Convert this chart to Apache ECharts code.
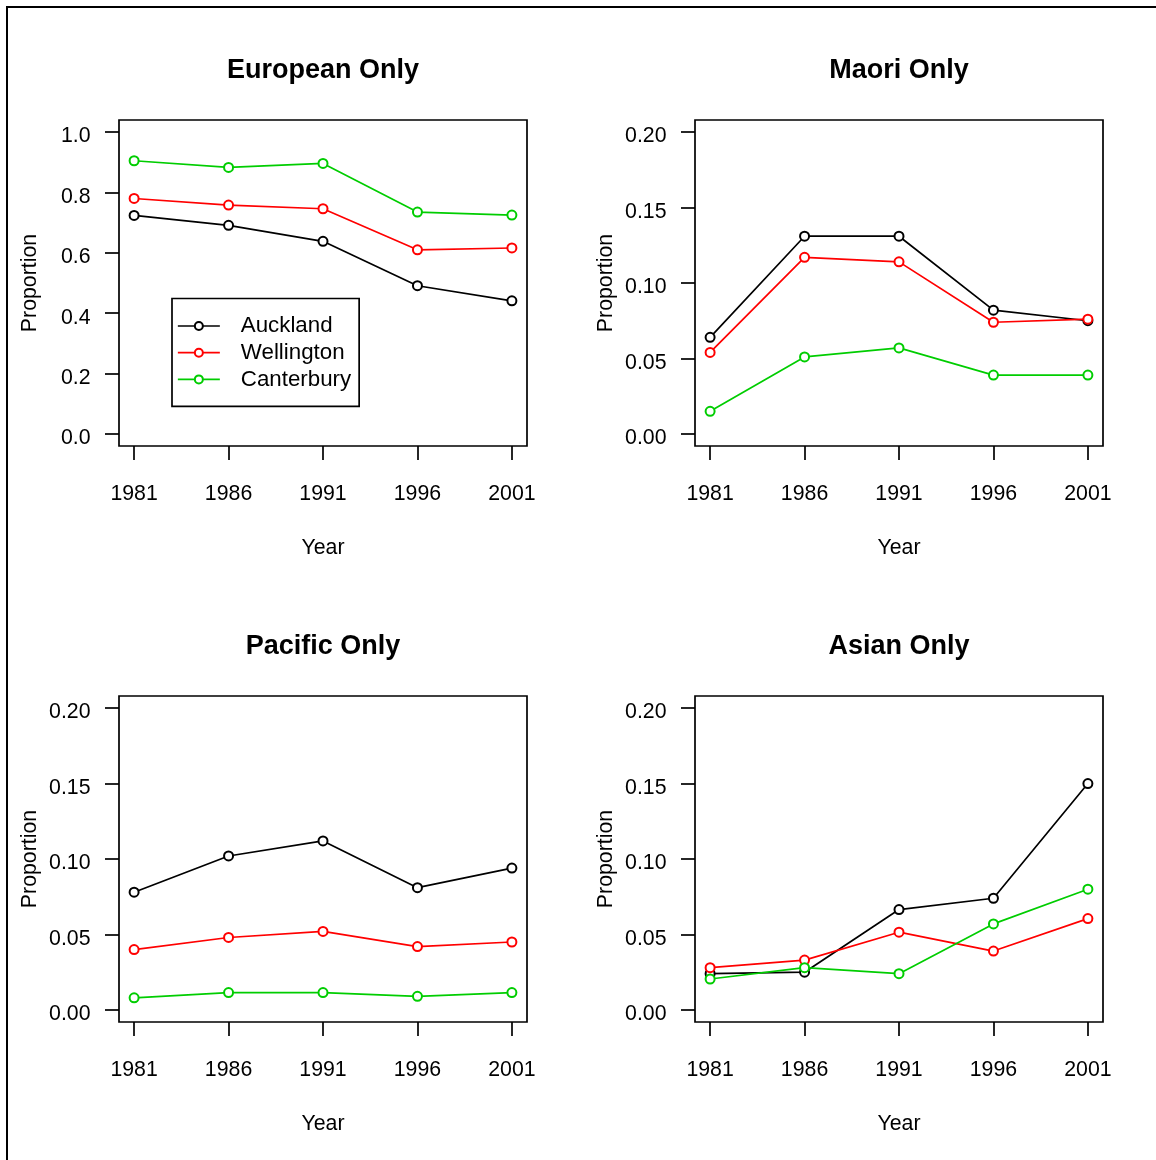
<!DOCTYPE html>
<html>
<head>
<meta charset="utf-8">
<script src="https://cdn.jsdelivr.net/npm/echarts@6/dist/echarts.min.js"></script>
<style>
  html, body { margin: 0; padding: 0; background: #ffffff; }
  #chart { width: 1156px; height: 1160px; }
</style>
</head>
<body>
<div id="chart"></div>
<script>
// Census proportions by region, 1981-2001
const years = [1981, 1986, 1991, 1996, 2001];
const regions = ['Auckland', 'Wellington', 'Canterbury'];
const regionColors = ['#000000', '#FF0000', '#00CD00'];

const panelTitles = ['European Only', 'Maori Only', 'Pacific Only', 'Asian Only'];

const europeanAuckland   = [0.724, 0.691, 0.638, 0.491, 0.441];
const europeanWellington = [0.780, 0.758, 0.746, 0.610, 0.616];
const europeanCanterbury = [0.905, 0.883, 0.896, 0.735, 0.725];

const maoriAuckland   = [0.064, 0.131, 0.131, 0.082, 0.075];
const maoriWellington = [0.054, 0.117, 0.114, 0.074, 0.076];
const maoriCanterbury = [0.015, 0.051, 0.057, 0.039, 0.039];

const pacificAuckland   = [0.078, 0.102, 0.112, 0.081, 0.094];
const pacificWellington = [0.040, 0.048, 0.052, 0.042, 0.045];
const pacificCanterbury = [0.008, 0.0115, 0.0115, 0.009, 0.0115];

const asianAuckland   = [0.024, 0.025, 0.0665, 0.074, 0.150];
const asianWellington = [0.028, 0.033, 0.0515, 0.039, 0.0605];
const asianCanterbury = [0.0205, 0.028, 0.024, 0.057, 0.080];

const yTicksEuropean = [0, 0.2, 0.4, 0.6, 0.8, 1.0];
const yTicksOther = [0, 0.05, 0.10, 0.15, 0.20];

const panelValues = [
  [europeanAuckland, europeanWellington, europeanCanterbury],
  [maoriAuckland, maoriWellington, maoriCanterbury],
  [pacificAuckland, pacificWellington, pacificCanterbury],
  [asianAuckland, asianWellington, asianCanterbury]
];
const panelTicks = [yTicksEuropean, yTicksOther, yTicksOther, yTicksOther];
const panelDecimals = [1, 2, 2, 2];

// plot-box geometry for the 2x2 layout
const FONT = '"Liberation Sans", Arial, Helvetica, sans-serif';
const TEXT = 21.3;
const LINE_W = 1.7;
const boxW = 408, boxH = 326;
const boxLeft = [119, 695, 119, 695];
const boxTop = [120, 120, 696, 696];
const titleY = [71, 71, 646.5, 646.5];

// R-style 4% padding beyond the data range
function padded(lo, hi) {
  const d = (hi - lo) * 0.04;
  return [lo - d, hi + d];
}

const grids = [], xAxes = [], yAxes = [], series = [], graphics = [];

panelTitles.forEach((title, p) => {
  grids.push({
    left: boxLeft[p], top: boxTop[p], width: boxW, height: boxH,
    show: true, borderColor: '#000', borderWidth: LINE_W, backgroundColor: 'transparent',
    containLabel: false, outerBoundsMode: 'none'
  });

  const xr = padded(years[0], years[years.length - 1]);
  xAxes.push({
    type: 'value', gridIndex: p, min: xr[0], max: xr[1],
    axisLine: { show: false, onZero: false },
    splitLine: { show: false },
    axisTick: { show: true, inside: false, length: 14, customValues: years,
                lineStyle: { color: '#000', width: LINE_W } },
    axisLabel: { customValues: years, margin: 38, color: '#000',
                 fontFamily: FONT, fontSize: TEXT, formatter: v => String(v) },
    name: 'Year', nameLocation: 'middle', nameGap: 92,
    nameTextStyle: { color: '#000', fontFamily: FONT, fontSize: TEXT }
  });

  const ticks = panelTicks[p];
  const yr = padded(ticks[0], ticks[ticks.length - 1]);
  const dec = panelDecimals[p];
  yAxes.push({
    type: 'value', gridIndex: p, min: yr[0], max: yr[1],
    axisLine: { show: false, onZero: false },
    splitLine: { show: false },
    axisTick: { show: true, inside: false, length: 14, customValues: ticks,
                lineStyle: { color: '#000', width: LINE_W } },
    axisLabel: { customValues: ticks, margin: 28.5, color: '#000',
                 fontFamily: FONT, fontSize: TEXT,
                 verticalAlign: 'top', lineHeight: 9,
                 formatter: v => Number(v).toFixed(dec) },
    name: 'Proportion', nameLocation: 'middle', nameGap: 78, nameMoveOverlap: false,
    nameTextStyle: { color: '#000', fontFamily: FONT, fontSize: TEXT }
  });

  regions.forEach((region, r) => {
    series.push({
      name: region, type: 'line', xAxisIndex: p, yAxisIndex: p,
      data: years.map((y, i) => [y, panelValues[p][r][i]]),
      symbol: 'emptyCircle', symbolSize: 9, showSymbol: true,
      color: regionColors[r],
      lineStyle: { color: regionColors[r], width: LINE_W },
      itemStyle: { color: regionColors[r], borderColor: regionColors[r], borderWidth: LINE_W },
      emphasis: { disabled: true },
      silent: true,
      z: 2 + r
    });
  });

  graphics.push({
    type: 'text', x: boxLeft[p] + boxW / 2, y: titleY[p],
    style: { text: title, fill: '#000', font: 'bold 27px ' + FONT,
             textAlign: 'center', textVerticalAlign: 'middle' }
  });
});

// page frame
graphics.push({
  type: 'rect', shape: { x: 7, y: 7, width: 1300, height: 1300 },
  style: { fill: 'none', stroke: '#000', lineWidth: 2 }, silent: true
});

const chart = echarts.init(document.getElementById('chart'), null, { renderer: 'canvas' });
chart.setOption({
  animation: false,
  backgroundColor: '#ffffff',
  textStyle: { fontFamily: FONT },
  grid: grids,
  xAxis: xAxes,
  yAxis: yAxes,
  series: series,
  graphic: graphics,
  legend: {
    data: regions,
    orient: 'vertical',
    left: 172, top: 298.5,
    padding: [16.5, 8, 16, 5],
    itemGap: 4.7,
    itemWidth: 42, itemHeight: 10,
    borderColor: '#000', borderWidth: LINE_W,
    backgroundColor: '#ffffff',
    selectedMode: false,
    textStyle: { color: '#000', fontFamily: FONT, fontSize: 22.3, padding: [0, 0, 0, 16] },
    lineStyle: { width: LINE_W }
  }
});
</script>
</body>
</html>
